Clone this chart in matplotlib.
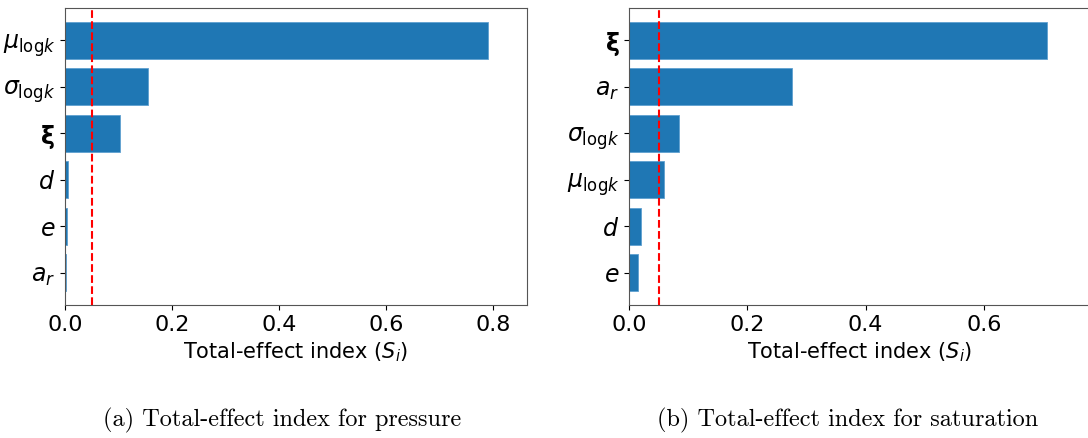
import numpy as np
import matplotlib.pyplot as plt

# total-effect indices, ordered top to bottom
pressure_labels = [r'$\mu_{\mathrm{log}k}$', r'$\sigma_{\mathrm{log}k}$', r'$\mathbf{\xi}$', r'$d$', r'$e$', r'$a_r$']
pressure_si = [0.79, 0.155, 0.103, 0.006, 0.003, 0.002]

saturation_labels = [r'$\mathbf{\xi}$', r'$a_r$', r'$\sigma_{\mathrm{log}k}$', r'$\mu_{\mathrm{log}k}$', r'$d$', r'$e$']
saturation_si = [0.707, 0.276, 0.084, 0.060, 0.021, 0.015]

threshold = 0.05
pressure_ticks = [0.0, 0.2, 0.4, 0.6, 0.8]
saturation_ticks = [0.0, 0.2, 0.4, 0.6]

plt.rcParams['mathtext.fontset'] = 'dejavusans'

fig = plt.figure(figsize=(10.88, 4.38), dpi=100)
ax1 = fig.add_axes([0.0597, 0.3037, 0.4246, 0.678])
ax2 = fig.add_axes([0.5781, 0.3037, 0.4246, 0.678])


def draw(ax, labels, vals, ticks, xmax):
    y = np.arange(len(vals))[::-1]
    ax.barh(y, vals, height=0.8, color='#1f77b4', edgecolor='#5fa0d0', linewidth=0.6)
    ax.axvline(threshold, color='red', linestyle='--', linewidth=1.5)
    ax.set_yticks(y)
    ax.set_yticklabels(labels, fontsize=17)
    ax.set_xticks(ticks)
    ax.set_xticklabels([f'{t:.1f}' for t in ticks], fontsize=16)
    ax.set_xlim(0, xmax)
    ax.set_xlabel(r'Total-effect index ($S_i$)', fontsize=15)
    for s in ax.spines.values():
        s.set_color('#555555')


draw(ax1, pressure_labels, pressure_si, pressure_ticks, 0.8636)
draw(ax2, saturation_labels, saturation_si, saturation_ticks, 0.781)

fig.text(0.259, 0.012, '(a) Total-effect index for pressure', family='cmr10',
         fontsize=17.5, ha='center', va='bottom')
fig.text(0.779, 0.012, '(b) Total-effect index for saturation', family='cmr10',
         fontsize=17.5, ha='center', va='bottom')

fig.savefig('out.png', dpi=100)
